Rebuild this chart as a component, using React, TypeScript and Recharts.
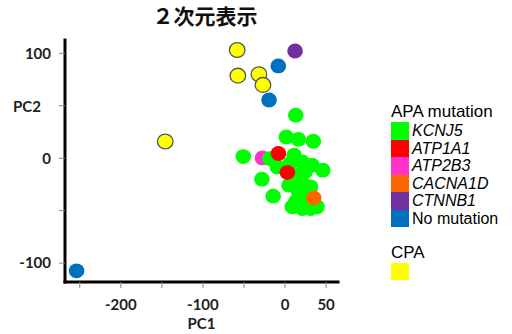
import React from 'react';
import { ScatterChart, Scatter, XAxis, YAxis, Label } from 'recharts';

const title = '２次元表示';
const xTicks = [-250, -200, -150, -100, -50, 0, 50];
const xLabeled = [-200, -100, 0, 50];
const yTicks = [-100, -50, 0, 50, 100];
const yLabeled = [-100, 0, 100];
const xDomain = [-268, 64.5];
const yDomain = [-118, 112.7];

const KCNJ5 = [
  { x: -50.9, y: 1.6 }, { x: -18.5, y: -0.3 }, { x: -9.3, y: -8.3 }, { x: 13, y: 41 },
  { x: 1.6, y: 20.3 }, { x: 16.2, y: 18 }, { x: 34.5, y: 16.2 }, { x: 11, y: 2.9 },
  { x: 21, y: -3.5 }, { x: 33, y: -6.7 }, { x: 46, y: -11.4 }, { x: 24.2, y: -13 },
  { x: 13, y: -16.2 }, { x: -28.2, y: -20 }, { x: 4.8, y: -25.7 }, { x: 23, y: -25 },
  { x: 31, y: -27.3 }, { x: -14.5, y: -36.2 }, { x: 17, y: -33.6 }, { x: 13, y: -41.6 },
  { x: 8.8, y: -46.3 }, { x: 21, y: -48 }, { x: 31, y: -48 }, { x: 39, y: -46.3 },
  { x: 28, y: -40 }, { x: 6, y: -5 },
];
const ATP1A1 = [{ x: -8.1, y: 4.5 }, { x: 2.8, y: -13.6 }];
const ATP2B3 = [{ x: -27.5, y: 0.3 }];
const CACNA1D = [{ x: 35, y: -37.8 }];
const CTNNB1 = [{ x: 12.2, y: 102.2 }];
const NoMutation = [{ x: -8.2, y: 88 }, { x: -19.5, y: 55.5 }, { x: -253.9, y: -107.3 }];
const CPA = [
  { x: -58.3, y: 103.2 }, { x: -57.5, y: 78.7 }, { x: -31.8, y: 80 },
  { x: -26.9, y: 69.9 }, { x: -145.9, y: 15.9 },
];

const apaLegend = [
  { name: 'KCNJ5', color: '#00FF00', italic: true },
  { name: 'ATP1A1', color: '#FF0000', italic: true },
  { name: 'ATP2B3', color: '#FF33CC', italic: true },
  { name: 'CACNA1D', color: '#FF6600', italic: true },
  { name: 'CTNNB1', color: '#7030A0', italic: true },
  { name: 'No mutation', color: '#0070C0', italic: false },
];
const cpaColor = '#FFFF00';

const dot = (fill: string, stroke?: string) => (props: any) => (
  <ellipse cx={props.cx} cy={props.cy} rx={7.8} ry={7.4} fill={fill}
    stroke={stroke || 'none'} strokeWidth={stroke ? 1.3 : 0} />
);

const tickFont = { fontFamily: 'Lato, "Open Sans", sans-serif', fontWeight: 700, fontSize: 15, fill: '#222' };
const border = { stroke: '#000', strokeWidth: 3, strokeLinecap: 'square' as const };
const ROW = 17.5;

export default function App() {
  return (
    <div style={{ position: 'absolute', left: 0, top: 0, width: 512, height: 334, background: '#fff' }}>
      <ScatterChart width={512} height={334} margin={{ top: 40, right: 174, bottom: 0, left: 0 }}>
        <XAxis type="number" dataKey="x" domain={xDomain} ticks={xTicks} allowDataOverflow
          tickFormatter={(v: number) => (xLabeled.includes(v) ? String(v) : '')}
          height={52} axisLine={border} tickLine={{ stroke: '#888' }} tickSize={6} tickMargin={11}
          tick={tickFont} interval={0}>
          <Label value="PC1" position="insideBottom" offset={5}
            style={{ fontFamily: 'Lato, "Open Sans", sans-serif', fontWeight: 700, fontSize: 15, fill: '#222' }} />
        </XAxis>
        <XAxis xAxisId="top" orientation="top" type="number" dataKey="x" domain={xDomain} allowDataOverflow
          height={0} tick={false} tickLine={false} axisLine={border} />
        <YAxis type="number" dataKey="y" domain={yDomain} ticks={yTicks} allowDataOverflow
          tickFormatter={(v: number) => (yLabeled.includes(v) ? String(v) : '')}
          width={65} axisLine={border} tickLine={{ stroke: '#888' }} tickSize={6} tickMargin={8}
          tick={tickFont} interval={0}>
          <Label value="PC2" position="insideLeft" offset={13} dy={-54}
            style={{ fontFamily: 'Lato, "Open Sans", sans-serif', fontWeight: 700, fontSize: 15, fill: '#222', textAnchor: 'start' }} />
        </YAxis>
        <YAxis yAxisId="right" orientation="right" type="number" dataKey="y" domain={yDomain} allowDataOverflow
          width={0} tick={false} tickLine={false} axisLine={border} />
        <Scatter data={ATP2B3} fill="#FF33CC" shape={dot('#FF33CC')} isAnimationActive={false} />
        <Scatter data={KCNJ5} fill="#00FF00" shape={dot('#00FF00')} isAnimationActive={false} />
        <Scatter data={ATP1A1} fill="#FF0000" shape={dot('#FF0000')} isAnimationActive={false} />
        <Scatter data={CACNA1D} fill="#FF6600" shape={dot('#FF6600')} isAnimationActive={false} />
        <Scatter data={CTNNB1} fill="#7030A0" shape={dot('#7030A0')} isAnimationActive={false} />
        <Scatter data={NoMutation} fill="#0070C0" shape={dot('#0070C0')} isAnimationActive={false} />
        <Scatter data={CPA} fill={cpaColor} shape={dot(cpaColor, '#555')} isAnimationActive={false} />
      </ScatterChart>
      <div style={{ position: 'absolute', left: 95, width: 220, top: 2, textAlign: 'center',
        fontFamily: '"Noto Sans CJK JP", sans-serif', fontWeight: 700, fontSize: 21, lineHeight: '26px', color: '#111' }}>
        {title}
      </div>
      <div style={{ position: 'absolute', left: 391, top: 102, fontFamily: '"Liberation Sans", Arial, sans-serif',
        fontSize: 16, color: '#000' }}>
        <div style={{ lineHeight: '20px', height: 20, fontSize: 17 }}>APA mutation</div>
        {apaLegend.map((it) => (
          <div key={it.name} style={{ display: 'flex', alignItems: 'center', height: ROW }}>
            <div style={{ width: 18, height: ROW, background: it.color }} />
            <span style={{ marginLeft: 3, fontStyle: it.italic ? 'italic' : 'normal', lineHeight: ROW + 'px', height: ROW }}>{it.name}</span>
          </div>
        ))}
        <div style={{ lineHeight: '20px', height: 20, marginTop: 16, fontSize: 17 }}>CPA</div>
        <div style={{ width: 18, height: 17, background: cpaColor }} />
      </div>
    </div>
  );
}
